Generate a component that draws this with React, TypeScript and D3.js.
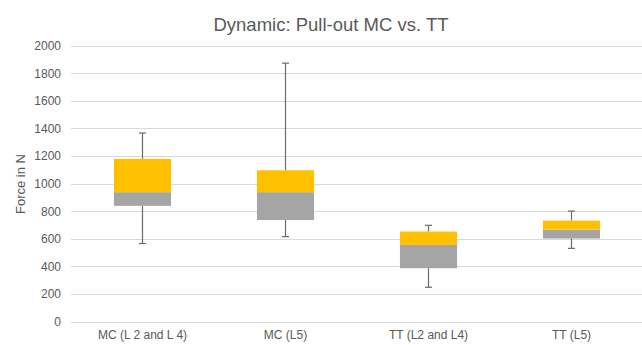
import React from "react";
import * as d3 from "d3";

const categories = ["MC (L 2 and L 4)", "MC (L5)", "TT (L2 and L4)", "TT (L5)"];
const minValues = [565, 615, 248, 530];
const q1Values = [838, 735, 386, 601];
const medianValues = [937, 937, 555, 666];
const q3Values = [1178, 1096, 652, 731];
const maxValues = [1366, 1872, 697, 800];
const yTicks = [0, 200, 400, 600, 800, 1000, 1200, 1400, 1600, 1800, 2000];

const W = 642;
const H = 345;
const font = "'Liberation Sans', Arial, sans-serif";

export default function App() {
  const x = d3.scaleBand<string>().domain(categories).range([71, 642]).paddingInner(0).paddingOuter(0);
  const y = d3.scaleLinear().domain([0, 2000]).range([321.5, 45.5]);
  const boxW = x.bandwidth() * 0.4;
  const capW = 7;
  const whiskerColor = "#6b6b6b";

  return (
    <svg width={W} height={H} style={{ position: "absolute", left: 0, top: 0, background: "#fff" }}>
      <rect x={0} y={0} width={W} height={H} fill="#fff" />
      <text x={331} y={31} textAnchor="middle" fontFamily={font} fontSize={18.5} fill="#595959">
        Dynamic: Pull-out MC vs. TT
      </text>
      {yTicks.map((t) => (
        <g key={t}>
          <line x1={71} x2={642} y1={Math.round(y(t)) + 0.5} y2={Math.round(y(t)) + 0.5} stroke="#d9d9d9" strokeWidth={1} />
          <text x={61} y={y(t) + 4.5} textAnchor="end" fontFamily={font} fontSize={12} fill="#595959">
            {t}
          </text>
        </g>
      ))}
      <text
        transform={`translate(25, ${184}) rotate(-90)`}
        textAnchor="middle"
        fontFamily={font}
        fontSize={13}
        fill="#595959"
      >
        Force in N
      </text>
      {categories.map((c, i) => {
        const cx = Math.round((x(c) as number) + x.bandwidth() / 2) + 0.5;
        return (
          <g key={c}>
            <line x1={cx} x2={cx} y1={y(maxValues[i])} y2={y(q3Values[i])} stroke={whiskerColor} strokeWidth={1.2} />
            <line x1={cx - capW / 2} x2={cx + capW / 2} y1={y(maxValues[i])} y2={y(maxValues[i])} stroke={whiskerColor} strokeWidth={1.2} />
            <line x1={cx} x2={cx} y1={y(q1Values[i])} y2={y(minValues[i])} stroke={whiskerColor} strokeWidth={1.2} />
            <line x1={cx - capW / 2} x2={cx + capW / 2} y1={y(minValues[i])} y2={y(minValues[i])} stroke={whiskerColor} strokeWidth={1.2} />
            <rect
              x={cx - boxW / 2}
              y={y(medianValues[i])}
              width={boxW}
              height={y(q1Values[i]) - y(medianValues[i])}
              fill="#a5a5a5"
            />
            <rect
              x={cx - boxW / 2}
              y={y(q3Values[i])}
              width={boxW}
              height={y(medianValues[i]) - y(q3Values[i])}
              fill="#ffc000"
            />
            <text x={cx} y={339} textAnchor="middle" fontFamily={font} fontSize={12} fill="#595959">
              {c}
            </text>
          </g>
        );
      })}
    </svg>
  );
}
